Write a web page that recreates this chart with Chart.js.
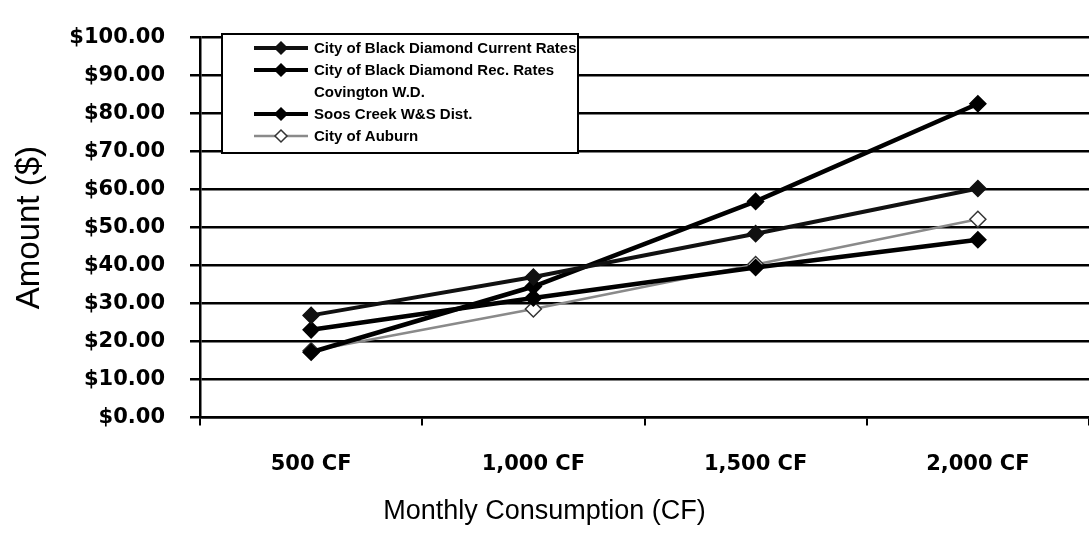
<!DOCTYPE html>
<html>
<head>
<meta charset="utf-8">
<script src="https://cdn.jsdelivr.net/npm/chart.js@4.4.1/dist/chart.umd.min.js"></script>
<style>
  body { margin: 0; background: #fff; }
  #wrap { width: 1089px; height: 543px; }
</style>
</head>
<body>
<div id="wrap"><canvas id="rates" width="1089" height="543"></canvas></div>
<script>
// consumption levels on the x axis
const categories = ['500 CF', '1,000 CF', '1,500 CF', '2,000 CF'];

// monthly bill in dollars
const bdCurrent = [26.9, 37.0, 48.4, 60.3];
const bdRec     = [17.2, 34.5, 56.9, 82.6];
const covington = [];               // no visible line in the scan
const soosCreek = [23.1, 31.5, 39.5, 46.8];
const auburn    = [17.6, 28.6, 40.3, 52.2];

const seriesNames = [
  'City of Black Diamond Current Rates',
  'City of Black Diamond Rec. Rates',
  'Covington W.D.',
  'Soos Creek W&S Dist.',
  'City of Auburn'
];

const yMin = 0, yMax = 100, yStep = 10;

function lineSet(label, data, color, width, fill, edge) {
  return {
    label: label,
    data: data,
    borderColor: color,
    borderWidth: width,
    pointStyle: 'rectRot',
    pointRadius: 8,
    pointBackgroundColor: fill,
    pointBorderColor: edge,
    pointBorderWidth: 1.5,
    tension: 0
  };
}

// legend drawn as a boxed list inside the plot, like the original
const boxLegend = {
  id: 'boxLegend',
  afterDraw(chart) {
    const ctx = chart.ctx;
    const x0 = 222, y0 = 34, w = 356, h = 119;
    ctx.save();
    ctx.fillStyle = '#fff';
    ctx.fillRect(x0, y0, w, h);
    ctx.strokeStyle = '#000';
    ctx.lineWidth = 2;
    ctx.strokeRect(x0, y0, w, h);
    ctx.font = 'bold 15px "Liberation Sans", Arial, sans-serif';
    ctx.textBaseline = 'middle';
    chart.data.datasets.forEach(function(ds, i) {
      const cy = 48 + i * 22;
      ctx.strokeStyle = ds.borderColor;
      ctx.lineWidth = Math.min(ds.borderWidth, 4);
      ctx.beginPath();
      ctx.moveTo(254, cy);
      ctx.lineTo(308, cy);
      ctx.stroke();
      const r = 6;
      ctx.beginPath();
      ctx.moveTo(281, cy - r);
      ctx.lineTo(281 + r, cy);
      ctx.lineTo(281, cy + r);
      ctx.lineTo(281 - r, cy);
      ctx.closePath();
      ctx.fillStyle = ds.pointBackgroundColor;
      ctx.fill();
      ctx.strokeStyle = ds.pointBorderColor;
      ctx.lineWidth = 1.5;
      ctx.stroke();
      ctx.fillStyle = '#000';
      ctx.fillText(ds.label, 314, cy + 1);
    });
    ctx.restore();
  }
};

new Chart(document.getElementById('rates'), {
  type: 'line',
  data: {
    labels: categories,
    datasets: [
      lineSet(seriesNames[0], bdCurrent, '#111', 4, '#111', '#111'),
      lineSet(seriesNames[1], bdRec, '#000', 4.5, '#000', '#000'),
      lineSet(seriesNames[2], covington, 'rgba(0,0,0,0)', 0, 'rgba(0,0,0,0)', 'rgba(0,0,0,0)'),
      lineSet(seriesNames[3], soosCreek, '#000', 4.5, '#000', '#000'),
      lineSet(seriesNames[4], auburn, '#8a8a8a', 2.5, '#fff', '#333')
    ]
  },
  options: {
    responsive: false,
    animation: false,
    layout: { autoPadding: false, padding: { top: 23, right: 0, left: 0, bottom: 0 } },
    plugins: {
      legend: { display: false },
      tooltip: { enabled: false },
      // the x axis caption in the scan sits centred on the whole picture, not the plot
      title: {
        display: true,
        position: 'bottom',
        text: 'Monthly Consumption (CF)',
        color: '#000',
        font: { family: 'Liberation Sans', size: 27, weight: 'normal', lineHeight: 1.2 },
        padding: { top: 0, bottom: 15 }
      }
    },
    scales: {
      x: {
        offset: true,
        grid: { offset: true, drawOnChartArea: false, drawTicks: true, tickLength: 8, color: '#000', lineWidth: 2 },
        border: { color: '#000', width: 2.5 },
        ticks: {
          color: '#000',
          padding: 26,
          font: { family: 'DejaVu Sans', weight: 'bold', size: 21 }
        },
        afterFit: function(s) {
          s.height = 78;
          s.paddingLeft = 0;
          s.paddingRight = 0;
        }
      },
      y: {
        min: yMin,
        max: yMax,
        grid: { color: '#000', lineWidth: 2.5, tickLength: 10 },
        border: { color: '#000', width: 2.5 },
        ticks: {
          stepSize: yStep,
          color: '#000',
          padding: 25,
          font: { family: 'DejaVu Sans', weight: 'bold', size: 21 },
          callback: function(v) { return '$' + v.toFixed(2); }
        },
        title: {
          display: true,
          text: 'Amount ($)',
          color: '#000',
          font: { family: 'Liberation Sans', size: 33 },
          padding: { top: 10, bottom: 0 }
        },
        afterFit: function(s) { s.width = 200; }
      }
    }
  },
  plugins: [boxLegend]
});
</script>
</body>
</html>
